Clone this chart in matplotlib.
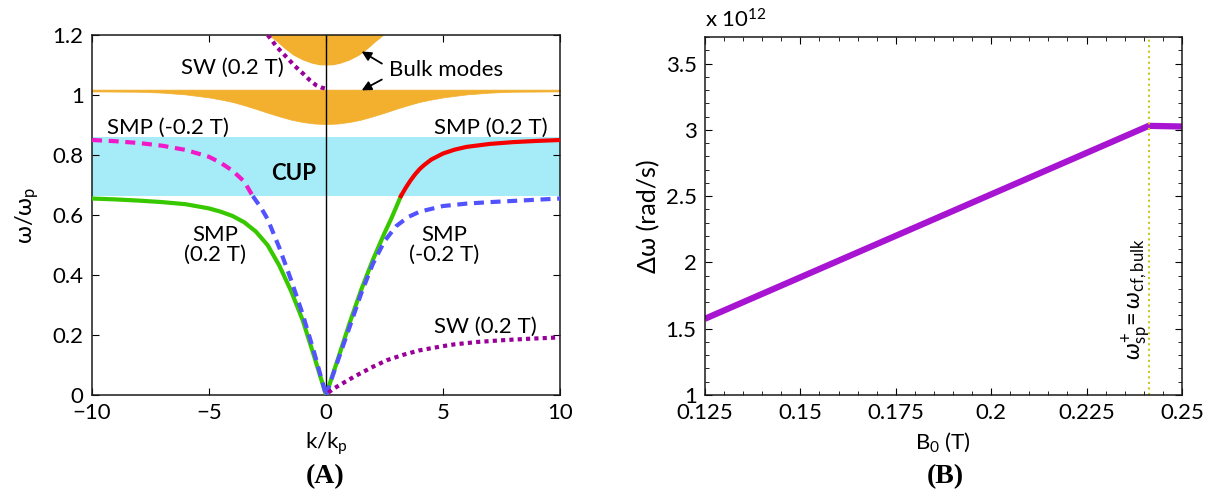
import numpy as np
import matplotlib.pyplot as plt
from matplotlib.ticker import FormatStrFormatter, MultipleLocator

plt.rcParams['font.family'] = ['Lato', 'DejaVu Sans']
plt.rcParams['mathtext.fontset'] = 'custom'
plt.rcParams['mathtext.rm'] = 'Lato'
plt.rcParams['mathtext.it'] = 'Lato:italic'

# ---- panel A data ----
k_blob = [-2.45, -2.3, -2.1, -1.8, -1.4, -1.0, -0.6, -0.3, 0, 0.3, 0.6, 1.0, 1.4, 1.8, 2.1, 2.3, 2.45]
w_blob = [1.2, 1.19, 1.178, 1.157, 1.133, 1.117, 1.106, 1.101, 1.1, 1.101, 1.106, 1.117, 1.133, 1.157, 1.178, 1.19, 1.2]

k_band = [-10, -8, -7, -6, -5, -4.5, -4, -3.5, -3, -2.5, -2, -1.5, -1, -0.5, 0,
          0.5, 1, 1.5, 2, 2.5, 3, 3.5, 4, 4.5, 5, 6, 7, 8, 10]
w_band_lo = [1.012, 1.011, 1.008, 1.002, 0.992, 0.985, 0.977, 0.966, 0.954, 0.941, 0.929, 0.918, 0.91, 0.905, 0.903,
             0.905, 0.91, 0.918, 0.929, 0.941, 0.954, 0.966, 0.977, 0.985, 0.992, 1.002, 1.008, 1.011, 1.012]
w_band_hi = 1.018

cup_lo, cup_hi = 0.663, 0.86

# SMP (0.2 T)
k_smp_p_left = [-10, -9, -8, -7, -6, -5, -4.5, -4, -3.5, -3, -2.5, -2, -1.5, -1, -0.5, 0]
w_smp_p_left = [0.655, 0.652, 0.648, 0.643, 0.636, 0.622, 0.611, 0.597, 0.576, 0.545, 0.5, 0.432, 0.348, 0.25, 0.127, 0]
k_smp_p_right = [0, 0.5, 1, 1.5, 2, 2.5, 2.8, 3.2]
w_smp_p_right = [0, 0.118, 0.238, 0.35, 0.45, 0.54, 0.59, 0.663]
k_smp_p_cup = [3.2, 3.4, 3.6, 3.8, 4.0, 4.2, 4.5, 5, 5.5, 6, 7, 8, 9, 10]
w_smp_p_cup = [0.663, 0.69, 0.714, 0.735, 0.753, 0.767, 0.785, 0.805, 0.818, 0.827, 0.837, 0.843, 0.847, 0.85]

# SMP (-0.2 T)
k_smp_m_cup = [-10, -9, -8, -7, -6, -5, -4.5, -4, -3.5, -3.13]
w_smp_m_cup = [0.85, 0.846, 0.84, 0.831, 0.817, 0.794, 0.774, 0.748, 0.712, 0.663]
k_smp_m_left = [-3.13, -2.8, -2.5, -2, -1.5, -1, -0.5, 0]
w_smp_m_left = [0.663, 0.627, 0.587, 0.492, 0.385, 0.27, 0.14, 0]
k_smp_m_right = [0, 0.5, 1, 1.5, 2, 2.5, 3, 3.5, 4, 5, 6, 7, 8, 9, 10]
w_smp_m_right = [0, 0.113, 0.225, 0.338, 0.437, 0.513, 0.563, 0.593, 0.611, 0.63, 0.638, 0.643, 0.647, 0.651, 0.655]

# SW (0.2 T)
k_sw_right = [0.1, 0.3, 0.6, 1.2, 2, 2.6, 3.3, 4, 5, 5.5, 6.5, 7.6, 8.8, 10]
w_sw_right = [0.008, 0.02, 0.034, 0.061, 0.094, 0.116, 0.134, 0.149, 0.163, 0.169, 0.177, 0.183, 0.188, 0.192]
k_sw_top = [-2.49, -2.1, -1.71, -1.35, -0.99, -0.7, -0.43, -0.2, -0.05]
w_sw_top = [1.2, 1.16, 1.128, 1.098, 1.072, 1.05, 1.033, 1.025, 1.022]

# ---- panel B data ----
b0 = [0.125, 0.2413, 0.25]
dw = [1.575, 3.03, 3.025]   # x 10^12 rad/s
b0_cf = 0.2413

fig = plt.figure(figsize=(12.19, 4.96), dpi=100)
ax1 = fig.add_axes([0.0755, 0.2036, 0.3839, 0.7258])
ax2 = fig.add_axes([0.5783, 0.2036, 0.3913, 0.7218])

orange = '#f2b02e'
green = '#38c800'
red = '#f50000'
blue = '#5252ff'
magenta = '#f018c8'
purple = '#990099'

ax1.axhspan(cup_lo, cup_hi, color='#a6ecf8', lw=0, zorder=0)
ax1.fill_between(k_blob, w_blob, 1.25, color=orange, lw=0, zorder=1)
ax1.fill_between(k_band, w_band_lo, w_band_hi, color=orange, lw=0.5, edgecolor=orange, zorder=1)
ax1.axvline(0, color='black', lw=1, zorder=2)

dash = (2.4, 1.6)
dot = (1, 1)
ax1.plot(k_smp_p_left, w_smp_p_left, color=green, lw=3, zorder=3)
ax1.plot(k_smp_p_right, w_smp_p_right, color=green, lw=3, zorder=3)
ax1.plot(k_smp_p_cup, w_smp_p_cup, color=red, lw=3, zorder=3)
ax1.plot(k_smp_m_cup, w_smp_m_cup, color=magenta, lw=3, dashes=dash, zorder=3)
ax1.plot(k_smp_m_left, w_smp_m_left, color=blue, lw=3, dashes=dash, zorder=3)
ax1.plot(k_smp_m_right, w_smp_m_right, color=blue, lw=3, dashes=dash, zorder=3)
ax1.plot(k_sw_right, w_sw_right, color=purple, lw=3, dashes=dot, zorder=3)
ax1.plot(k_sw_top, w_sw_top, color=purple, lw=3, dashes=dot, zorder=3)

fs = 16
ax1.text(-4.0, 1.09, 'SW (0.2 T)', fontsize=fs, ha='center', va='center')
ax1.text(5.15, 1.083, 'Bulk modes', fontsize=fs, ha='center', va='center')
ax1.annotate('', xy=(1.42, 1.15), xytext=(2.49, 1.1),
             arrowprops=dict(arrowstyle='-|>', color='black', lw=1.3, mutation_scale=14))
ax1.annotate('', xy=(1.42, 1.011), xytext=(2.49, 1.056),
             arrowprops=dict(arrowstyle='-|>', color='black', lw=1.3, mutation_scale=14))
ax1.text(-6.75, 0.889, 'SMP (-0.2 T)', fontsize=fs, ha='center', va='center')
ax1.text(7.04, 0.889, 'SMP (0.2 T)', fontsize=fs, ha='center', va='center')
ax1.text(-1.39, 0.739, 'CUP', fontsize=fs, fontweight='bold', ha='center', va='center')
ax1.text(-4.73, 0.5, 'SMP\n(0.2 T)', fontsize=fs, ha='center', va='center', linespacing=1.0)
ax1.text(5.04, 0.5, 'SMP\n(-0.2 T)', fontsize=fs, ha='center', va='center', linespacing=1.0)
ax1.text(6.82, 0.228, 'SW (0.2 T)', fontsize=fs, ha='center', va='center')

ax1.set_xlim(-10, 10)
ax1.set_ylim(0, 1.2)
ax1.set_xticks([-10, -5, 0, 5, 10])
ax1.set_yticks([0, 0.2, 0.4, 0.6, 0.8, 1, 1.2])
ax1.yaxis.set_major_formatter(FormatStrFormatter('%g'))
ax1.set_xlabel(r'k/k$_\mathregular{p}$', fontsize=fs, labelpad=5)
ax1.set_ylabel(r'ω/ω$_\mathregular{p}$', fontsize=fs + 1, labelpad=8)

ax2.plot(b0, dw, color='#a815d2', lw=4.5, solid_capstyle='butt')
ax2.axvline(b0_cf, color='#c8c81e', lw=1.5, ls=':')
ax2.text(0.2381, 1.72, r'$\omega^{+}_{\mathregular{sp}}\!=\omega_{\mathregular{cf,bulk}}$',
         fontsize=17, rotation=90, ha='center', va='center')
ax2.set_xlim(0.125, 0.25)
ax2.set_ylim(1, 3.7)
ax2.set_xticks([0.125, 0.15, 0.175, 0.2, 0.225, 0.25])
ax2.set_yticks([1, 1.5, 2, 2.5, 3, 3.5])
ax2.xaxis.set_minor_locator(MultipleLocator(0.005))
ax2.yaxis.set_minor_locator(MultipleLocator(0.1))
ax2.xaxis.set_major_formatter(FormatStrFormatter('%g'))
ax2.yaxis.set_major_formatter(FormatStrFormatter('%g'))
ax2.set_xlabel(r'B$_\mathregular{0}$ (T)', fontsize=fs, labelpad=5)
ax2.set_ylabel('Δω (rad/s)', fontsize=18, labelpad=4)
ax2.text(0.0, 1.015, r'x 10$^{\mathregular{12}}$', transform=ax2.transAxes, fontsize=fs,
         ha='left', va='bottom')

for ax in (ax1, ax2):
    ax.tick_params(which='both', direction='in', top=True, right=True, labelsize=fs, pad=6)
    ax.tick_params(which='major', length=5)
    ax.tick_params(which='minor', length=3)
    for s in ax.spines.values():
        s.set_linewidth(1.1)
        s.set_color('#1a1a1a')

fig.text(0.2666, 0.04, '(A)', fontsize=20, fontweight='bold', family='Liberation Serif',
         ha='center', va='center')
fig.text(0.7752, 0.04, '(B)', fontsize=20, fontweight='bold', family='Liberation Serif',
         ha='center', va='center')

fig.savefig('out.png', dpi=100)
